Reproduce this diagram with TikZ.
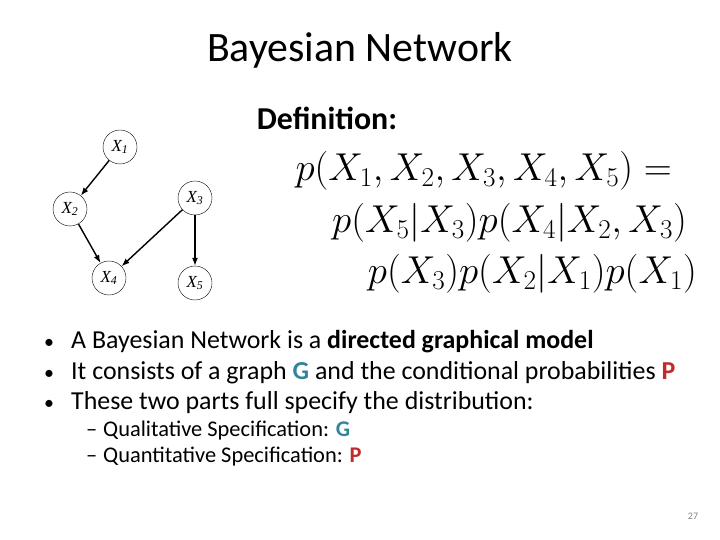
\documentclass[tikz,border=0pt]{standalone}
\usepackage{fix-cm}
\usepackage{fontspec}
\setmainfont{Carlito}
\newfontfamily\timesf{Liberation Serif}
\usepackage{xcolor}
\usetikzlibrary{positioning, arrows.meta}
\definecolor{gteal}{RGB}{49,132,155}
\definecolor{pred}{RGB}{192,44,44}
\newcommand{\rv}[1]{{\timesf\itshape X\textsubscript{#1}}}

\begin{document}
\begin{tikzpicture}[x=1bp, y=-1bp,
  var/.style={circle, draw, thin, minimum size=34bp, inner sep=0pt, font=\fontsize{17}{19}\selectfont},
  edge/.style={-{Latex[length=8bp,width=6bp]}, line width=1.4bp},
  line/.style={anchor=base west, inner sep=0pt, font=\fontsize{26}{30}\selectfont},
  subline/.style={anchor=base west, inner sep=0pt, font=\fontsize{22.5}{26}\selectfont},
  eqline/.style={anchor=base east, inner sep=0pt, font=\fontsize{39}{45}\selectfont}]
\useasboundingbox (0,0) rectangle (720,540);
% title
\node (title) at (360,50) {\fontsize{42}{48}\selectfont Bayesian Network};
% the graph
\node[var] (x1) at (120,147) {\rv{1}};
\node[var] (x2) at (70,209) {\rv{2}};
\node[var] (x3) at (195,198) {\rv{3}};
\node[var] (x4) at (109,278) {\rv{4}};
\node[var] (x5) at (195,283) {\rv{5}};
\draw[edge] (x1) -- (x2);
\draw[edge] (x2) -- (x4);
\draw[edge] (x3) -- (x4);
\draw[edge] (x3) -- (x5);
% definition
\node[font=\fontsize{32}{38}\selectfont\bfseries] (def) at (327,118) {Definition:};
\node[eqline] (eq1) at (672,181) {$p(X_1,X_2,X_3,X_4,X_5) =$};
\node[eqline] (eq2) at (687,233) {$p(X_5|X_3)p(X_4|X_2,X_3)$};
\node[eqline] (eq3) at (697,284) {$p(X_3)p(X_2|X_1)p(X_1)$};
% bullets
\node[line] (b1) at (44,348) {\fontsize{20}{24}\selectfont •};
\node[line] (t1) at (71,348) {A Bayesian Network is a \textbf{directed graphical model}};
\node[line] (b2) at (44,379) {\fontsize{20}{24}\selectfont •};
\node[line] (t2) at (71,379) {It consists of a graph \textbf{\color{gteal}G} and the conditional probabilities \textbf{\color{pred}P}};
\node[line] (b3) at (44,409) {\fontsize{20}{24}\selectfont •};
\node[line] (t3) at (71,409) {These two parts full specify the distribution:};
\node[subline] (d1) at (86,436) {–};
\node[subline] (s1) at (103,436) {Qualitative Specification: \textbf{\color{gteal}G}};
\node[subline] (d2) at (86,462) {–};
\node[subline] (s2) at (103,462) {Quantitative Specification: \textbf{\color{pred}P}};
% page number
\node[text=gray, font=\fontsize{10}{11}\selectfont] (page) at (693,516) {27};
\end{tikzpicture}
\end{document}
